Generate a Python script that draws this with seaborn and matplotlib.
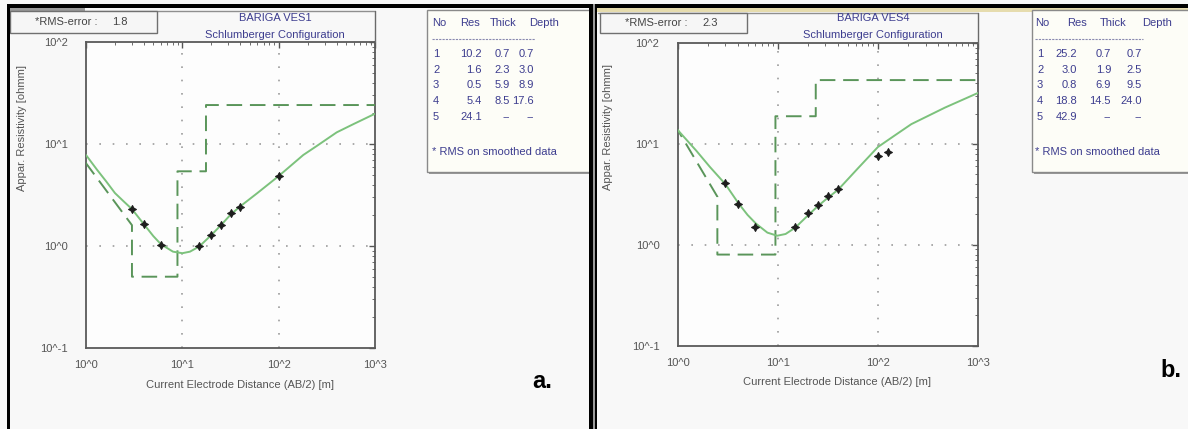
import numpy as np
import pandas as pd
import matplotlib
matplotlib.use("Agg")
import matplotlib.pyplot as plt
import seaborn as sns
from matplotlib.patches import Rectangle
from matplotlib.lines import Line2D
from matplotlib.ticker import LogLocator, NullFormatter, FixedLocator, FixedFormatter

# ---------------- VES1 ----------------
ves1_ab2 = [3, 4, 6, 15, 20, 25, 32, 40, 100]
ves1_rho = [2.30, 1.63, 1.02, 1.00, 1.28, 1.59, 2.09, 2.39, 4.82]
ves1_fit_ab2 = [1.0, 1.3, 1.62, 2.0, 2.5, 3.0, 4.0, 5.0, 6.0, 8.0, 10.0, 12.0, 15.0,
                20.0, 25.0, 32.0, 40.0, 60.0, 100.0, 180.0, 250.0, 400.0, 600.0, 1000.0]
ves1_fit_rho = [7.8, 5.6, 4.3, 3.3, 2.7, 2.3, 1.63, 1.25, 1.04, 0.88, 0.85, 0.88, 0.99,
                1.28, 1.59, 2.05, 2.45, 3.3, 4.85, 7.8, 9.6, 13.0, 15.7, 19.8]
ves1_res = [10.2, 1.6, 0.5, 5.4, 24.1]
ves1_thick = [0.7, 2.3, 5.9, 8.5]
ves1_depth = [0.7, 3.0, 8.9, 17.6]
ves1_rms = "1.8"

# ---------------- VES4 ----------------
ves4_ab2 = [3, 4, 6, 15, 20, 25, 32, 40, 100, 125]
ves4_rho = [4.13, 2.56, 1.51, 1.51, 2.05, 2.47, 3.03, 3.60, 7.67, 8.27]
ves4_fit_ab2 = [1.0, 1.55, 2.11, 3.0, 4.07, 5.0, 6.08, 7.9, 9.9, 12.0, 15.0, 20.0,
                25.0, 32.0, 40.0, 63.0, 100.0, 147.0, 216.0, 468.0, 1000.0]
ves4_fit_rho = [13.8, 8.5, 5.9, 4.0, 2.57, 1.98, 1.62, 1.32, 1.23, 1.28, 1.48, 1.95,
                2.40, 2.95, 3.5, 5.7, 9.3, 12.1, 15.7, 22.9, 32.0]
ves4_res = [25.2, 3.0, 0.8, 18.8, 42.9]
ves4_thick = [0.7, 1.9, 6.9, 14.5]
ves4_depth = [0.7, 2.5, 9.5, 24.0]
ves4_rms = "2.3"

x_tick_vals = [1, 10, 100, 1000]
x_tick_text = ["10^0", "10^1", "10^2", "10^3"]
y_tick_vals = [0.1, 1, 10, 100]
y_tick_text = ["10^-1", "10^0", "10^1", "10^2"]

sns.set_style("white")
plt.rcParams["font.family"] = ["Liberation Sans", "DejaVu Sans"]

W, H = 1188, 429
fig = plt.figure(figsize=(W / 100, H / 100), dpi=100, facecolor="#f8f8f8")


def fx(x):
    return x / W


def fy(y):
    return 1 - y / H


def rect(x0, y0, x1, y1, face="none", edge="none", lw=0.0, z=5):
    fig.add_artist(Rectangle((fx(x0), fy(y1)), fx(x1) - fx(x0), fy(y0) - fy(y1),
                             transform=fig.transFigure, facecolor=face,
                             edgecolor=edge, linewidth=lw, zorder=z))


def seg(x0, y0, x1, y1, color, lw, ls="-", z=6):
    fig.add_artist(Line2D([fx(x0), fx(x1)], [fy(y0), fy(y1)], transform=fig.transFigure,
                          color=color, lw=lw, ls=ls, zorder=z))


def ftext(x, y, s, **kw):
    kw.setdefault("zorder", 7)
    fig.text(fx(x), fy(y), s, **kw)


def model_steps(res, depth, xmax=1000.0):
    xs = [depth[0], depth[1]]
    ys = [res[0], res[1]]
    n = len(depth)
    for i in range(1, n):
        nxt = depth[i + 1] if i + 1 < n else xmax
        xs += [depth[i], nxt]
        ys += [res[i + 1], res[i + 1]]
    return xs, ys


FIT_GREEN = "#7cc27c"
MODEL_GREEN = "#5a955a"
GRID = "#9c9c9c"
TEXT_GREY = "#555555"
NAVY = "#3d3d8f"


def draw_panel(p):
    x0, y0, x1, y1 = p["axes"]
    ax = fig.add_axes([fx(x0), fy(y1), fx(x1) - fx(x0), fy(y0) - fy(y1)])
    ax.set_facecolor("#fdfdfd")
    ax.set_xscale("log")
    ax.set_yscale("log")
    ax.set_xlim(1, 1000)
    ax.set_ylim(0.1, 100)

    for v in [10, 100]:
        ax.axvline(v, color=GRID, lw=1.2, ls=(0, (1, 7)), zorder=1)
    for h in [1, 10]:
        ax.axhline(h, color=GRID, lw=1.2, ls=(0, (1, 7)), zorder=1)

    mx, my = model_steps(p["res"], p["depth"])
    sns.lineplot(x=mx, y=my, ax=ax, sort=False, estimator=None, color=MODEL_GREEN,
                 lw=1.4, linestyle=(0, (8, 4)), zorder=3)
    sns.lineplot(x=p["fit_x"], y=p["fit_y"], ax=ax, sort=False, estimator=None,
                 color=FIT_GREEN, lw=1.4, zorder=4)
    sns.scatterplot(x=p["obs_x"], y=p["obs_y"], ax=ax, marker=(4, 1, 0), s=32,
                    color="#1e1e1e", edgecolor="#1e1e1e", linewidth=0.8, zorder=5)

    ax.xaxis.set_major_locator(FixedLocator(x_tick_vals))
    ax.xaxis.set_major_formatter(FixedFormatter(x_tick_text))
    ax.yaxis.set_major_locator(FixedLocator(y_tick_vals))
    ax.yaxis.set_major_formatter(FixedFormatter(y_tick_text))
    ax.xaxis.set_minor_locator(LogLocator(base=10, subs=range(2, 10)))
    ax.yaxis.set_minor_locator(LogLocator(base=10, subs=range(2, 10)))
    ax.xaxis.set_minor_formatter(NullFormatter())
    ax.yaxis.set_minor_formatter(NullFormatter())
    ax.tick_params(which="both", direction="in", top=True, right=True, color="#555555")
    ax.tick_params(which="major", length=4, width=1)
    ax.tick_params(which="minor", length=2, width=0.6)
    ax.tick_params(axis="x", which="major", labelsize=8, labelcolor=TEXT_GREY, pad=9)
    ax.tick_params(axis="y", which="major", labelsize=8, labelcolor=TEXT_GREY, pad=13)
    for sp in ax.spines.values():
        sp.set_color("#5a5a5a")
        sp.set_linewidth(1.3)
    ax.set_xlabel("")
    ax.set_ylabel("")

    # axis titles
    ftext(p["xlabel"][0], p["xlabel"][1], "Current Electrode Distance (AB/2) [m]",
          ha="center", va="center", fontsize=8, color=TEXT_GREY)
    ftext(p["ylabel"][0], p["ylabel"][1], "Appar. Resistivity [ohmm]",
          ha="center", va="center", rotation=90, fontsize=8, color=TEXT_GREY)

    # header strip above the plot
    tx = p["title_x"]
    seg(p["frame_left"], p["top_line"], x1, p["top_line"], "#8f8f8f", 1.0)
    seg(x1, p["top_line"], x1, y0, "#6a6a6a", 1.0)
    ftext(tx, 18, p["name"], ha="center", va="center", fontsize=8, color=NAVY)
    ftext(tx, 35, "Schlumberger Configuration", ha="center", va="center",
          fontsize=8, color=NAVY)

    rb = p["rms_box"]
    rect(rb[0], rb[1], rb[2], rb[3], face="#f6f6f6", edge="#707070", lw=1.0, z=6)
    ftext(rb[0] + 25, (rb[1] + rb[3]) / 2, "*RMS-error :", ha="left", va="center",
          fontsize=8, color="#444444")
    ftext(rb[0] + 102, (rb[1] + rb[3]) / 2, p["rms"], ha="left", va="center",
          fontsize=8, color="#444444")

    # layer table
    lb = p["legend_box"]
    rect(lb[0] + 2, lb[1] + 2, lb[2] + 2, lb[3] + 2, face="#9a9a9a", z=5)
    rect(lb[0], lb[1], lb[2], lb[3], face="#fdfdf7", edge="#8a8a8a", lw=1.0, z=6)
    hx = p["head_x"]
    for word, xo in zip(["No", "Res", "Thick", "Depth"], hx):
        ftext(xo, 23, word, ha="left", va="center", fontsize=8, color=NAVY)
    seg(hx[0], 39, p["sep_end"], 39, "#8a8ab0", 0.8, ls=(0, (2, 1)))
    cx = p["cols"]
    row_y = [54, 70, 85, 101, 117]
    n_layers = len(p["res"])
    for i in range(n_layers):
        yy = row_y[i]
        thick = f"{p['thick'][i]:.1f}" if i < len(p["thick"]) else "--"
        depth = f"{p['depth'][i]:.1f}" if i < len(p["depth"]) else "--"
        ftext(cx[0], yy, str(i + 1), ha="left", va="center", fontsize=8, color=NAVY)
        ftext(cx[1], yy, f"{p['res'][i]:.1f}", ha="right", va="center", fontsize=8, color=NAVY)
        ftext(cx[2], yy, thick, ha="right", va="center", fontsize=8, color=NAVY)
        ftext(cx[3], yy, depth, ha="right", va="center", fontsize=8, color=NAVY)
    ftext(hx[0], 152, "* RMS on smoothed data", ha="left", va="center",
          fontsize=8, color=NAVY)

    ftext(p["tag"][0], p["tag"][1], p["tag"][2], ha="left", va="baseline",
          fontsize=17, fontweight="bold", color="black")
    return ax


panels = [
    dict(name="BARIGA VES1", rms=ves1_rms, axes=(86, 42, 375, 348),
         obs_x=ves1_ab2, obs_y=ves1_rho, fit_x=ves1_fit_ab2, fit_y=ves1_fit_rho,
         res=ves1_res, thick=ves1_thick, depth=ves1_depth,
         xlabel=(240, 385), ylabel=(22, 128), title_x=275, frame_left=10, top_line=10.5,
         rms_box=(10, 11, 157, 33), legend_box=(427, 10, 590, 172),
         head_x=[432, 460, 490, 529], sep_end=535, cols=[433, 482, 510, 534],
         tag=(532, 388, "a.")),
    dict(name="BARIGA VES4", rms=ves4_rms, axes=(677.5, 43, 978, 345.7),
         obs_x=ves4_ab2, obs_y=ves4_rho, fit_x=ves4_fit_ab2, fit_y=ves4_fit_rho,
         res=ves4_res, thick=ves4_thick, depth=ves4_depth,
         xlabel=(837, 382), ylabel=(608, 127), title_x=873, frame_left=598, top_line=13,
         rms_box=(600, 13, 747, 33), legend_box=(1032, 10, 1192, 172),
         head_x=[1035, 1067, 1100, 1142], sep_end=1143, cols=[1037, 1077, 1111, 1142],
         tag=(1160, 377, "b.")),
]

# window frame pieces
rect(8, 4, W, 8, face="black", z=8)
rect(7, 4, 10, H, face="black", z=8)
rect(589, 4, 593, H, face="black", z=8)
rect(593, 4, 595, H, face="#9a9a9a", z=8)
rect(595, 4, 597, H, face="black", z=8)
rect(10, 8, 85, 11, face="#9a9a9a", z=4)
rect(597, 8, W, 12, face="#e6dcae", z=4)

for p in panels:
    draw_panel(p)

fig.savefig("out.png", dpi=100, facecolor=fig.get_facecolor())
